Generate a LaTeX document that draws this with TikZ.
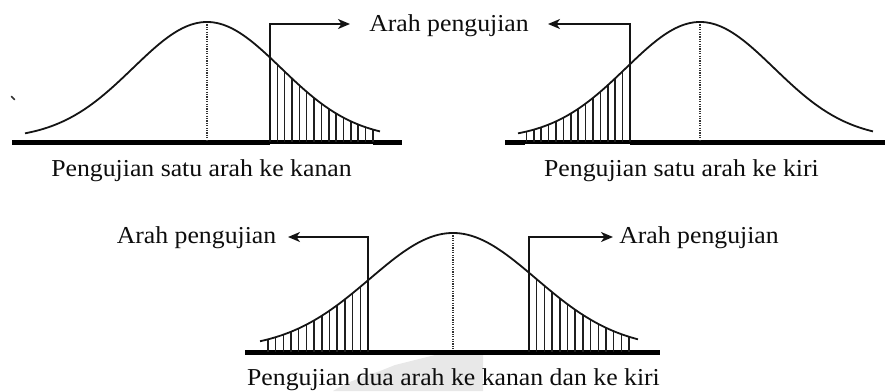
\documentclass[tikz,border=0pt]{standalone}
\usepackage{fontspec}
\setmainfont{Liberation Serif}[FakeStretch=1.06]
\usetikzlibrary{arrows.meta}
\tikzset{
  curve/.style={line width=1.8pt, black!92},
  hatchline/.style={line width=1.45pt, black!88},
  axisthick/.style={line width=5pt, black},
  axismid/.style={line width=3.6pt, black},
  meanline/.style={line width=1.2pt, black!80, dash pattern=on 1.2pt off 1.2pt},
  arr/.style={line width=1.8pt, black!92, -{Stealth[length=12pt,width=10pt,inset=3.5pt]}},
  lbl/.style={font=\fontsize{24.3}{28}\selectfont, text=black!95, inner sep=0pt, anchor=base},
  wmark/.style={fill=black!9, draw=none}
}
\begin{document}
\begin{tikzpicture}[x=1pt,y=-1pt]
\useasboundingbox (0,0) rectangle (885,391);
% faint watermark
\fill[wmark] (333,391) -- (345,384) -- (362,377) -- (380,371) -- (395,365) -- (415,360) -- (435,355) -- (483,355) -- (483,391) -- cycle;
% stray mark
\draw[line width=1.6pt, line cap=round, black!80] (11.5,96.5) -- (14.5,99.5);

% ---------- top-left ----------
\draw[axisthick] (12,142) -- (270,142);
\draw[axismid] (270,142) -- (373,142);
\draw[axisthick] (373,142) -- (402,142);
\foreach \i in {1,...,14}{
  \pgfmathsetmacro\hx{270+7.35*\i}
  \draw[hatchline] (\hx,142) -- (\hx,{139-117*exp(-0.5*((\hx-207)/74)^2)});
}
\draw[meanline] (207,22) -- (207,140);
\draw[curve] plot[domain=25:380, samples=150, smooth] (\x,{139-117*exp(-0.5*((\x-207)/74)^2)});
\coordinate (c1) at (270,142);
\coordinate (t1) at (350,24);
\draw[arr] (c1) |- (t1);
\node[lbl] (lab1) at (449,31) {Arah pengujian};
\node[lbl] (cap1) at (201.5,176) {Pengujian satu arah ke kanan};

% ---------- top-right ----------
\draw[axisthick] (505,142) -- (525,142);
\draw[axismid] (525,142) -- (630,142);
\draw[axisthick] (630,142) -- (885,142);
\foreach \i in {1,...,14}{
  \pgfmathsetmacro\hx{630-7.4*\i}
  \draw[hatchline] (\hx,142) -- (\hx,{139-117*exp(-0.5*((\hx-700)/74)^2)});
}
\draw[meanline] (700,22) -- (700,140);
\draw[curve] plot[domain=518:873, samples=150, smooth] (\x,{139-117*exp(-0.5*((\x-700)/74)^2)});
\coordinate (c2) at (630,142);
\coordinate (t2) at (548,24);
\draw[arr] (c2) |- (t2);
\node[lbl] (cap2) at (681.5,176) {Pengujian satu arah ke kiri};

% ---------- bottom ----------
\draw[axisthick] (245,352) -- (660,352);
\foreach \i in {1,...,13}{
  \pgfmathsetmacro\hx{368-7.7*\i}
  \draw[hatchline] (\hx,352) -- (\hx,{349-116*exp(-0.5*((\hx-453)/83)^2)});
  \pgfmathsetmacro\hy{529+7.7*\i}
  \draw[hatchline] (\hy,352) -- (\hy,{349-116*exp(-0.5*((\hy-453)/83)^2)});
}
\draw[meanline] (453,233) -- (453,350);
\draw[curve] plot[domain=260:638, samples=150, smooth] (\x,{349-116*exp(-0.5*((\x-453)/83)^2)});
\coordinate (c3) at (368,352);
\coordinate (t3) at (288,237);
\draw[arr] (c3) |- (t3);
\coordinate (c4) at (529,352);
\coordinate (t4) at (613,237);
\draw[arr] (c4) |- (t4);
\node[lbl] (lab3) at (196.5,243) {Arah pengujian};
\node[lbl] (lab4) at (699,243) {Arah pengujian};
\node[lbl] (cap3) at (453.5,385) {Pengujian dua arah ke kanan dan ke kiri};
\end{tikzpicture}
\end{document}
